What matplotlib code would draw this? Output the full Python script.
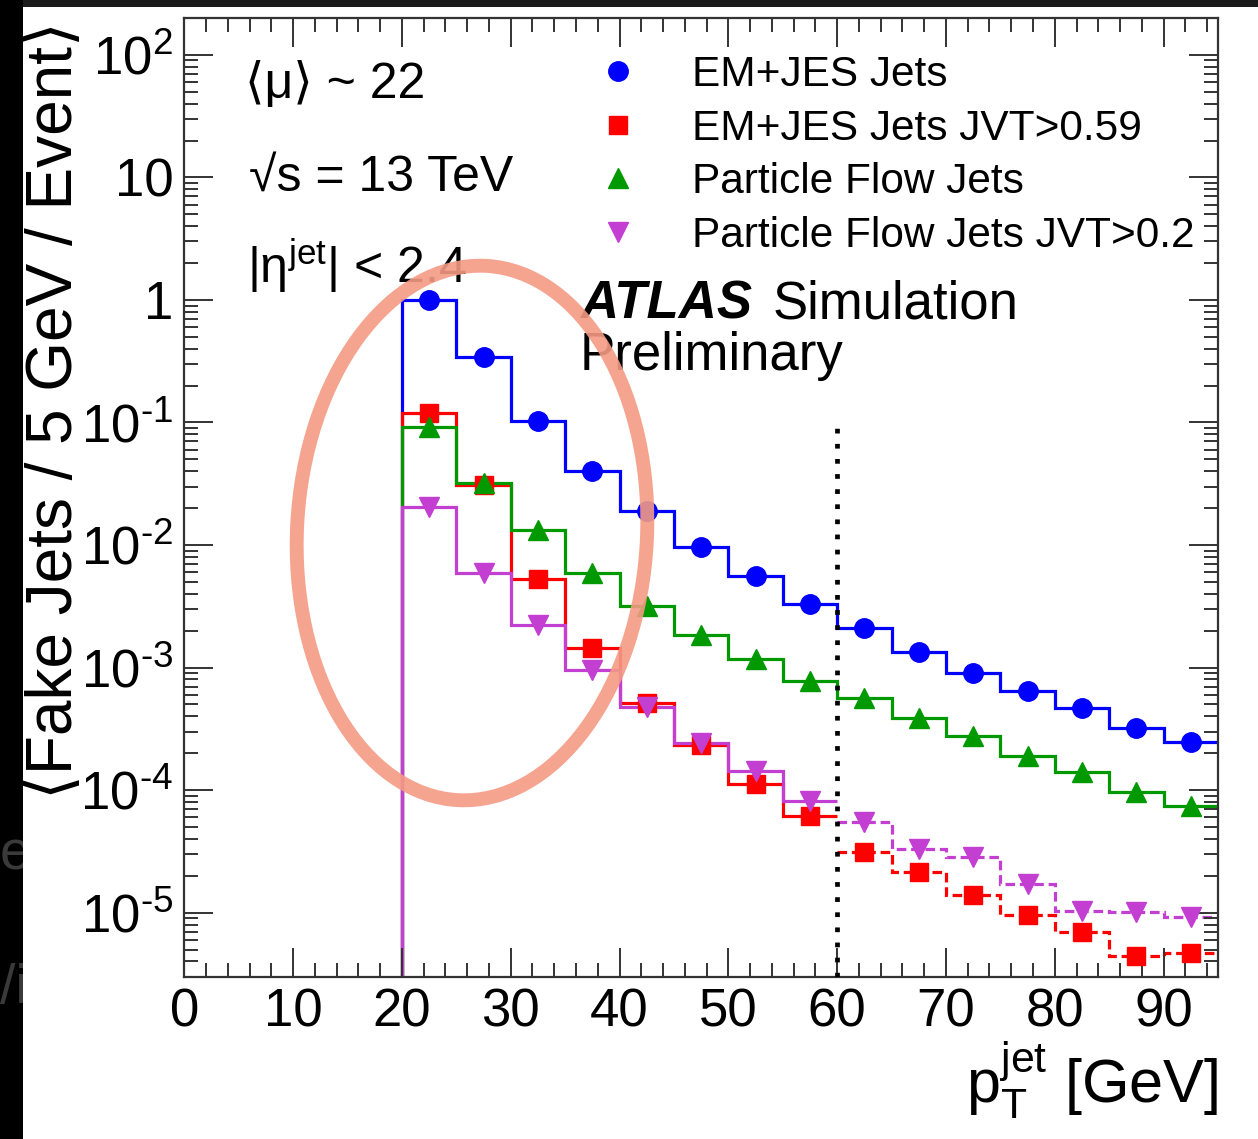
import numpy as np
import matplotlib.pyplot as plt
from matplotlib.lines import Line2D
from matplotlib.patches import Ellipse, Rectangle
from matplotlib.ticker import MultipleLocator, LogLocator, NullFormatter

plt.rcParams['font.family'] = ['Liberation Sans', 'DejaVu Sans']
plt.rcParams['mathtext.fontset'] = 'custom'
plt.rcParams['mathtext.rm'] = 'Liberation Sans'
plt.rcParams['mathtext.it'] = 'Liberation Sans:italic'
plt.rcParams['mathtext.bf'] = 'Liberation Sans:bold'
plt.rcParams['mathtext.default'] = 'regular'

# 5 GeV bins from 0 to 95 GeV, nothing below 20 GeV
pt_edges = np.arange(0, 100, 5)
pt_centers = pt_edges[:-1] + 2.5

em_jes = [0, 0, 0, 0, 0.99, 0.34, 0.102, 0.0404, 0.0190, 0.00968, 0.00564, 0.00328,
          0.00209, 0.00135, 0.000907, 0.000647, 0.000465, 0.000319, 0.000248]
em_jes_jvt = [0, 0, 0, 0, 0.119, 0.0309, 0.00525, 0.00144, 0.000516, 0.000233, 0.000112, 6.13e-5,
              3.13e-5, 2.15e-5, 1.39e-5, 9.5e-6, 6.97e-6, 4.44e-6, 4.64e-6]
pflow = [0, 0, 0, 0, 0.0925, 0.0323, 0.01325, 0.00594, 0.00319, 0.00184, 0.00117, 0.00078,
         0.000566, 0.000385, 0.000277, 0.00019, 0.00014, 9.7e-5, 7.4e-5]
pflow_jvt = [0, 0, 0, 0, 0.0206, 0.00587, 0.00222, 0.000955, 0.000479, 0.000243, 0.000144, 8.2e-5,
             5.45e-5, 3.28e-5, 2.86e-5, 1.71e-5, 1.035e-5, 1.02e-5, 9.2e-6]

labels = ['EM+JES Jets', 'EM+JES Jets JVT>0.59', 'Particle Flow Jets', 'Particle Flow Jets JVT>0.2']
colors = ['#0000ff', '#ff0000', '#009a00', '#c23fd2']
markers = ['o', 's', '^', 'v']
msizes = [14, 13, 14, 14]
dashed_above_cut = [False, True, False, True]

jvt_cut_pt = 60
cut_line_top = 0.1

ytick_vals = [1e2, 1e1, 1, 1e-1, 1e-2, 1e-3, 1e-4, 1e-5]
ytick_labels = ['$10^{2}$', '10', '1', r'$10^{\text{-}1}$', r'$10^{\text{-}2}$', r'$10^{\text{-}3}$',
                r'$10^{\text{-}4}$', r'$10^{\text{-}5}$']

W, H = 1258, 1139
fig = plt.figure(figsize=(W / 100, H / 100), dpi=100, facecolor='#1b1b1b')
fig.patches.append(Rectangle((0, 0), 23 / W, 1, transform=fig.transFigure,
                             facecolor='black', edgecolor='none', zorder=-3))
fig.patches.append(Rectangle((23 / W, 0), 1 - 23 / W, 1 - 7 / H, transform=fig.transFigure,
                             facecolor='white', edgecolor='none', zorder=-1))
fig.text(0.0, (H - 870) / H, 'er', color='#3a3a3a', fontsize=40, zorder=-2)
fig.text(0.0, (H - 1003) / H, '/i', color='#3a3a3a', fontsize=40, zorder=-2)

ax = fig.add_axes([184.3 / W, (H - 976.7) / H, (1218 - 184.3) / W, (976.7 - 18) / H])
ax.set_yscale('log')
ax.set_xlim(0, 95)
ax.set_ylim(3e-6, 200)

series = [em_jes, em_jes_jvt, pflow, pflow_jvt]
cut = list(pt_edges).index(jvt_cut_pt)
handles = []
for vals, c, m, ms, dsh in zip(series, colors, markers, msizes, dashed_above_cut):
    vals = np.array(vals)
    if dsh:
        ax.stairs(vals[:cut], pt_edges[:cut + 1], baseline=None, color=c, lw=2.3)
        ax.stairs(vals[cut:], pt_edges[cut:], baseline=None, color=c, lw=2.3, ls=(0, (3, 1.5)))
    else:
        ax.stairs(vals, pt_edges, baseline=None, color=c, lw=2.3)
    ok = vals > 0
    ax.plot(pt_centers[ok], vals[ok], ls='none', marker=m, ms=ms, color=c, mec=c)
    handles.append(Line2D([], [], ls='none', marker=m, ms=ms, color=c))

ax.vlines(jvt_cut_pt, 3e-6, cut_line_top, colors='black', lw=3.4, linestyles=(0, (1, 2.2)), zorder=4)

ax.xaxis.set_major_locator(MultipleLocator(10))
ax.xaxis.set_minor_locator(MultipleLocator(2))
ax.set_yticks(ytick_vals, ytick_labels)
ax.yaxis.set_minor_locator(LogLocator(base=10, subs=np.arange(2, 10), numticks=20))
ax.yaxis.set_minor_formatter(NullFormatter())
ax.tick_params(which='both', direction='in', top=True, right=True, color='#333333', width=1.4)
ax.tick_params(which='major', length=21, labelsize=38, pad=8)
ax.tick_params(which='minor', length=10)
for s in ax.spines.values():
    s.set_linewidth(1.6)
    s.set_color('#333333')

ax.legend(handles, labels, loc='upper left', bbox_to_anchor=(0.3886, 0.9614), frameon=False,
          fontsize=30.5, handlelength=1.5, handletextpad=1.0, labelspacing=0.32,
          borderpad=0, borderaxespad=0)

ax.text(0.0587, 0.9166, '⟨μ⟩ ~ 22', transform=ax.transAxes, fontsize=36, va='baseline')
ax.text(0.063, 0.8195, '√s = 13 TeV', transform=ax.transAxes, fontsize=36, va='baseline')
ax.text(0.061, 0.7236, '|η$^{jet}$| < 2.4', transform=ax.transAxes, fontsize=36, va='baseline')
ax.text(0.3828, 0.687, 'ATLAS', transform=ax.transAxes, fontsize=38, va='baseline',
        fontweight='bold', fontstyle='italic')
ax.text(0.5695, 0.687, 'Simulation', transform=ax.transAxes, fontsize=38, va='baseline')
ax.text(0.3828, 0.6328, 'Preliminary', transform=ax.transAxes, fontsize=38, va='baseline')

fig.text(55 / W, (H - 410) / H, '⟨Fake Jets / 5 GeV / Event⟩', rotation=90, fontsize=46,
         ha='center', va='center')
fig.text(1218 / W, (H - 1103) / H, 'p$_{T}^{jet}$ [GeV]', ha='right', va='baseline', fontsize=44)

# hand-drawn highlight around the low-pT region
fig.patches.append(Ellipse((4.72, (H - 533) / 100), 3.50, 5.35, angle=-3,
                           transform=fig.dpi_scale_trans, fill=False,
                           edgecolor='#f49a84', lw=10, alpha=0.9, zorder=5))

fig.savefig('out.png', dpi=100, facecolor=fig.get_facecolor())
